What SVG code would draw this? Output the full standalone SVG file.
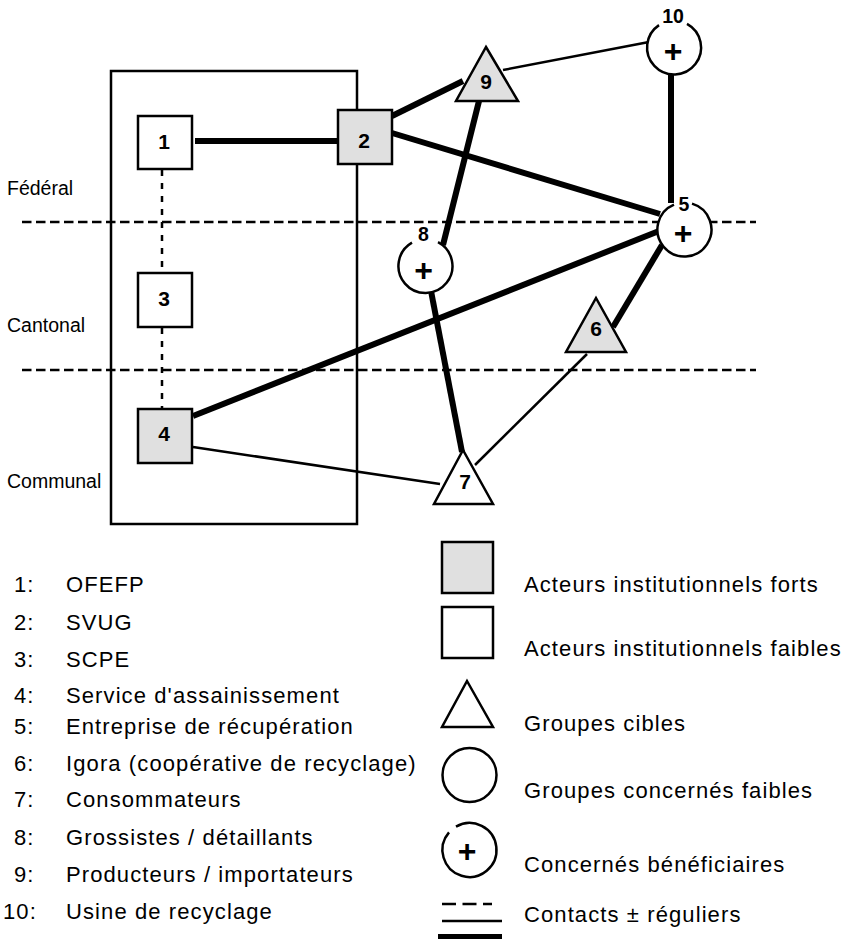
<svg xmlns="http://www.w3.org/2000/svg" width="849" height="939" viewBox="0 0 849 939">
  <style>
    .lvl { font-family: "Liberation Sans", Arial, sans-serif; font-size: 19.5px; fill: #000; }
    .num { font-family: "Liberation Sans", Arial, sans-serif; font-size: 21px; font-weight: bold; fill: #000; text-anchor: middle; }
    .cnum { font-family: "Liberation Sans", Arial, sans-serif; font-size: 19.5px; font-weight: bold; fill: #000; text-anchor: middle; }
    .plus { font-family: "Liberation Sans", Arial, sans-serif; font-size: 32px; font-weight: bold; fill: #000; text-anchor: middle; }
    .leg { font-family: "Liberation Sans", Arial, sans-serif; font-size: 22px; letter-spacing: 1.1px; fill: #000; }
    .strong { fill: #e0e0e0; stroke: #000; stroke-width: 2.5; }
    .weak { fill: #fff; stroke: #000; stroke-width: 2.5; }
    .ring { fill: #fff; stroke: #000; stroke-width: 2.5; }
    .arc { fill: none; stroke: #000; stroke-width: 2.5; }
    .thick { stroke: #000; stroke-width: 6; fill: none; }
    .thin { stroke: #000; stroke-width: 2.5; fill: none; }
    .vdash { stroke: #000; stroke-width: 2.5; stroke-dasharray: 6 7; fill: none; }
    .hdash { stroke: #000; stroke-width: 2.5; stroke-dasharray: 9.5 4.5; fill: none; }
  </style>

  <!-- administrative levels -->
  <g id="levels">
    <line class="hdash" x1="22" y1="222" x2="756" y2="222"/>
    <line class="hdash" x1="22" y1="370" x2="756" y2="370"/>
    <text class="lvl" x="7" y="195">Fédéral</text>
    <text class="lvl" x="7" y="332">Cantonal</text>
    <text class="lvl" x="7" y="488">Communal</text>
  </g>

  <!-- public administration frame -->
  <rect id="administration" x="111" y="71" width="246" height="453" fill="none" stroke="#000" stroke-width="2.5"/>

  <!-- connectors -->
  <g id="connectors">
    <line class="vdash" x1="162" y1="170" x2="162" y2="273"/>
    <line class="vdash" x1="162" y1="328" x2="162" y2="409"/>
    <line class="thick" x1="195" y1="141" x2="338" y2="141"/>
    <line class="thick" x1="392" y1="116" x2="463" y2="81"/>
    <line class="thick" x1="392" y1="133" x2="660" y2="214"/>
    <line class="thick" x1="479" y1="101" x2="443" y2="245"/>
    <line class="thin" x1="503" y1="70" x2="649" y2="42"/>
    <line class="thick" x1="671" y1="75" x2="671" y2="203"/>
    <line class="thick" x1="193" y1="416" x2="659" y2="231"/>
    <line class="thick" x1="662" y1="245" x2="613" y2="327"/>
    <line class="thick" x1="431" y1="291" x2="462" y2="452"/>
    <line class="thin" x1="587" y1="354" x2="475" y2="465"/>
    <line class="thin" x1="193" y1="447" x2="440" y2="484"/>
  </g>

  <!-- actors -->
  <g id="n1">
    <rect class="weak" x="138" y="116" width="54" height="53"/>
    <text class="num" x="164" y="149">1</text>
  </g>
  <g id="n2">
    <rect class="strong" x="338" y="110" width="54" height="54"/>
    <text class="num" x="364" y="148">2</text>
  </g>
  <g id="n3">
    <rect class="weak" x="138" y="273" width="54" height="54"/>
    <text class="num" x="164" y="306">3</text>
  </g>
  <g id="n4">
    <rect class="strong" x="138" y="409" width="54" height="54"/>
    <text class="num" x="164" y="441">4</text>
  </g>
  <g id="n5">
    <circle cx="684.5" cy="229.5" r="27" fill="#fff"/>
    <path class="arc" d="M 692 203.6 A 27 27 0 1 1 674 204.6"/>
    <text class="cnum" x="684" y="211">5</text>
    <text class="plus" x="683" y="244">+</text>
  </g>
  <g id="n6">
    <polygon class="strong" points="596,298 626,352 566,352"/>
    <text class="num" x="596" y="336">6</text>
  </g>
  <g id="n7">
    <polygon class="weak" points="463,450 493,504 434,504"/>
    <text class="num" x="465" y="489">7</text>
  </g>
  <g id="n8">
    <circle cx="425.5" cy="266" r="27" fill="#fff"/>
    <path class="arc" d="M 438 242.1 A 27 27 0 1 1 412 242.6"/>
    <text class="cnum" x="423.5" y="241">8</text>
    <text class="plus" x="423.5" y="281">+</text>
  </g>
  <g id="n9">
    <polygon class="strong" points="486,47 518,101 456,101"/>
    <text class="num" x="486" y="89">9</text>
  </g>
  <g id="n10">
    <circle cx="674" cy="47.5" r="27" fill="#fff"/>
    <path class="arc" d="M 687 23.8 A 27 27 0 1 1 659 25.1"/>
    <text class="cnum" x="673" y="23">10</text>
    <text class="plus" x="673" y="62">+</text>
  </g>

  <!-- list of actors -->
  <g id="actor-list" class="leg">
    <text x="14" y="592">1:</text><text x="66" y="592">OFEFP</text>
    <text x="14" y="630">2:</text><text x="66" y="630">SVUG</text>
    <text x="14" y="667">3:</text><text x="66" y="667">SCPE</text>
    <text x="14" y="703">4:</text><text x="66" y="703">Service d'assainissement</text>
    <text x="14" y="734">5:</text><text x="66" y="734">Entreprise de récupération</text>
    <text x="14" y="771">6:</text><text x="66" y="771">Igora (coopérative de recyclage)</text>
    <text x="14" y="807">7:</text><text x="66" y="807">Consommateurs</text>
    <text x="14" y="845">8:</text><text x="66" y="845">Grossistes / détaillants</text>
    <text x="14" y="882">9:</text><text x="66" y="882">Producteurs / importateurs</text>
    <text x="3" y="919">10:</text><text x="66" y="919">Usine de recyclage</text>
  </g>

  <!-- symbol key -->
  <g id="key">
    <rect class="strong" x="442" y="542" width="51" height="51"/>
    <text class="leg" x="524" y="592">Acteurs institutionnels forts</text>
    <rect class="weak" x="442" y="607" width="51" height="51"/>
    <text class="leg" x="524" y="656">Acteurs institutionnels faibles</text>
    <polygon class="weak" points="467,681 493,727 442,727"/>
    <text class="leg" x="524" y="731">Groupes cibles</text>
    <circle class="ring" cx="469.5" cy="775" r="27"/>
    <text class="leg" x="524" y="798">Groupes concernés faibles</text>
    <path class="arc" d="M 456 826.6 A 27 27 0 1 1 449 832.4"/>
    <text class="plus" x="467" y="862">+</text>
    <text class="leg" x="524" y="872">Concernés bénéficiaires</text>
    <line stroke="#000" stroke-width="2.5" stroke-dasharray="14 6.5" x1="442" y1="904" x2="492" y2="904"/>
    <line stroke="#000" stroke-width="2.5" x1="442" y1="921" x2="502" y2="921"/>
    <rect x="438" y="934" width="64" height="6" fill="#000"/>
    <text class="leg" x="524" y="922">Contacts ± réguliers</text>
  </g>
</svg>
